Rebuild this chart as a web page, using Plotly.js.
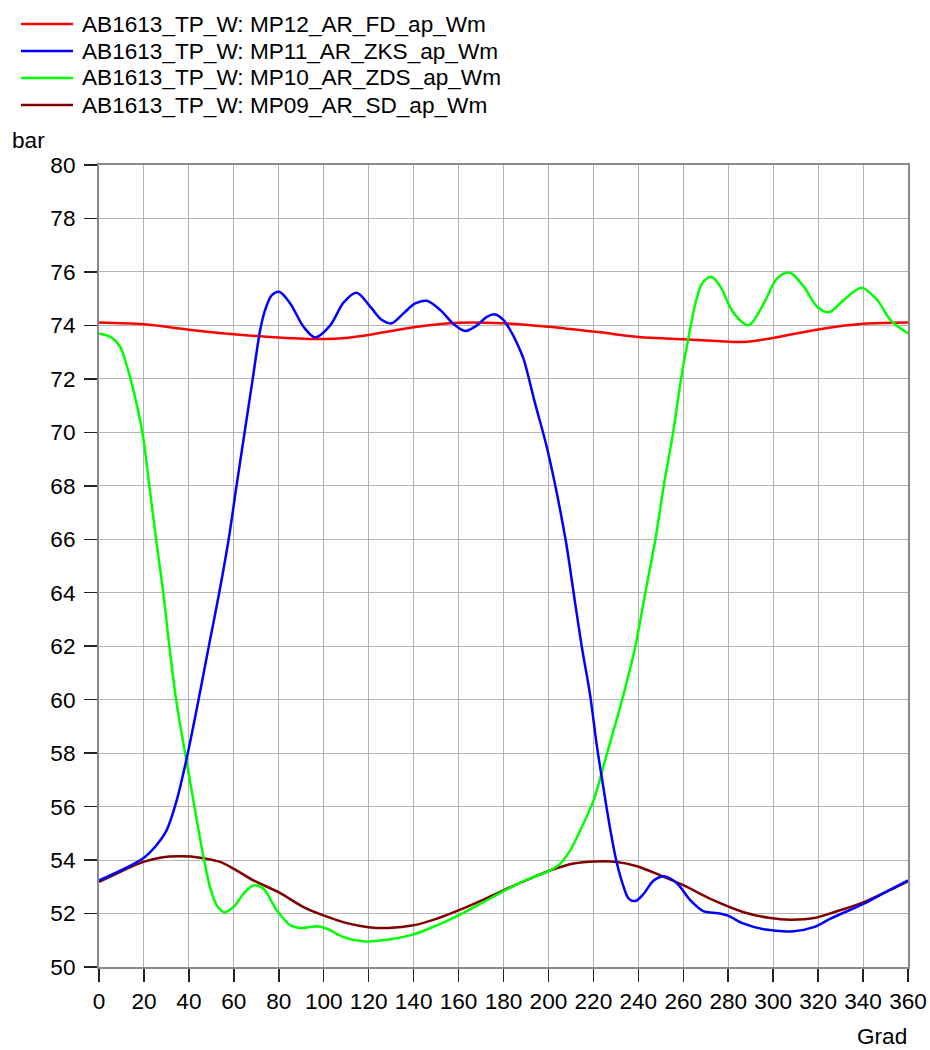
<!DOCTYPE html>
<html>
<head>
<meta charset="utf-8">
<script src="https://cdn.plot.ly/plotly-3.0.1.min.js"></script>
<style>html,body{margin:0;padding:0;background:#fff;}#chart{width:930px;height:1050px;}</style>
</head>
<body>
<div id="chart"></div>
<script>
// ---- data ----
const seriesNames = [
  "AB1613_TP_W: MP12_AR_FD_ap_Wm",
  "AB1613_TP_W: MP11_AR_ZKS_ap_Wm",
  "AB1613_TP_W: MP10_AR_ZDS_ap_Wm",
  "AB1613_TP_W: MP09_AR_SD_ap_Wm"
];
const xTickValues = [0,20,40,60,80,100,120,140,160,180,200,220,240,260,280,300,320,340,360];
const yTickValues = [50,52,54,56,58,60,62,64,66,68,70,72,74,76,78,80];
const xUnit = "Grad";
const yUnit = "bar";

const mp12Angle = [0,20,40,60,80,100,110,120,140,160,180,200,223,240,260,275,287,300,320,340,360];
const mp12Value = [74.11,74.04,73.84,73.67,73.55,73.49,73.53,73.64,73.93,74.1,74.08,73.95,73.74,73.57,73.48,73.42,73.38,73.53,73.85,74.06,74.11];

const mp11Angle = [0,10,20,25,30,34.6,39.3,44.3,49.1,53.5,57.7,61.2,64.8,68.4,71.7,73.9,76.9,80.2,85.1,91,96.2,102.9,108.8,114.6,120.7,125.9,130.3,135.5,140.7,145.9,151.9,157.8,163,168.2,172.6,176.3,180,183.8,186.7,189,194,199.6,207.6,211.2,214.8,218.5,221.5,224,227.6,230.5,233.5,235.7,238.7,242.4,246.9,252,257.3,263.2,269.1,273.6,279.5,286.9,295.8,309.2,318.1,325.5,340.4,350,360];
const mp11Value = [53.24,53.62,54.09,54.5,55.1,56.24,57.92,60.0,62.1,64.0,66.0,68.0,70.0,72.0,73.82,74.57,75.13,75.26,74.82,73.95,73.55,74.0,74.85,75.22,74.7,74.2,74.08,74.45,74.82,74.92,74.57,74.05,73.79,74.0,74.32,74.41,74.2,73.7,73.2,72.73,71.1,69.33,66.0,64.0,62.0,60.2,58.3,56.95,55.1,53.87,52.99,52.56,52.47,52.74,53.24,53.39,53.12,52.49,52.08,52.03,51.93,51.62,51.41,51.34,51.49,51.81,52.37,52.8,53.24];

const mp10Angle = [0,4.9,9.4,11.6,15.3,19.3,22.4,25.4,28.6,31.3,34.3,38.3,42.0,43.5,46.5,49.4,52.4,55.8,59.8,64.3,68.7,73.2,79.1,85.1,89.5,96.9,101.4,108.8,117.7,131.1,140,150.4,160,171.1,182.3,190,200.1,205.3,209.7,214.2,220.1,226.1,232.8,238.7,243.1,247.6,251.3,255.5,259,262.4,265.4,268.4,272.5,276.5,282.5,289.1,295.8,301.8,307.4,313.6,319.6,324.8,331.4,339.3,346.3,352.2,360];
const mp10Value = [73.7,73.58,73.2,72.7,71.58,70.0,68.0,66.0,64.0,62.0,60.0,58.0,56.24,55.49,54.12,52.99,52.31,52.05,52.24,52.74,53.05,52.93,52.12,51.56,51.46,51.52,51.43,51.12,50.96,51.06,51.22,51.56,51.93,52.43,52.93,53.25,53.59,53.87,54.37,55.12,56.24,58.0,60.0,62.0,64.0,66.0,68.0,70.0,72.0,73.58,74.82,75.57,75.82,75.45,74.45,74.01,74.82,75.76,75.97,75.45,74.7,74.49,74.95,75.41,74.95,74.2,73.7];

const mp09Angle = [0,10,19.7,27.2,36.8,45,53.9,59.8,68.7,79.9,91,99.9,110.3,119.9,128.8,140,150.4,160,171.1,180,190,200.1,211.2,220.9,230.5,239.4,249.8,260.2,273.6,286.9,298.8,307.7,318.1,327,340.4,360];
const mp09Value = [53.18,53.58,53.93,54.09,54.14,54.09,53.93,53.68,53.24,52.8,52.24,51.93,51.64,51.49,51.46,51.56,51.81,52.12,52.52,52.87,53.24,53.59,53.87,53.95,53.93,53.77,53.43,53.05,52.49,52.05,51.83,51.77,51.83,52.05,52.43,53.2];

const seriesColors = ["#ff0000","#0000ff","#00ff00","#800000"];

// ---- layout geometry (pixels) ----
const W = 930, H = 1050;
const L = 99, R = 908, T = 165, B = 967;
const px = x => (x - L) / (R - L);
const py = y => (B - y) / (B - T);
const FONT = "Liberation Sans, Arial, sans-serif";
const FS = 22.6;

const series = [
  {x: mp12Angle, y: mp12Value},
  {x: mp11Angle, y: mp11Value},
  {x: mp10Angle, y: mp10Value},
  {x: mp09Angle, y: mp09Value}
];
const drawOrder = [3, 0, 2, 1];
const traces = drawOrder.map(i => ({
  type: "scatter", mode: "lines",
  x: series[i].x, y: series[i].y, name: seriesNames[i],
  line: {color: seriesColors[i], width: 2.5, shape: "spline", smoothing: 0.9},
  showlegend: false, hoverinfo: "skip"
}));

const legendRows = [24, 51, 78, 105];
const shapes = [];
const annotations = [];
seriesNames.forEach((n, i) => {
  shapes.push({type: "line", xref: "paper", yref: "paper",
    x0: px(21), x1: px(73), y0: py(legendRows[i]), y1: py(legendRows[i]),
    line: {color: seriesColors[i], width: 2.5}});
  annotations.push({xref: "paper", yref: "paper", x: px(80), y: py(legendRows[i]),
    xanchor: "left", yanchor: "middle", showarrow: false, text: n,
    font: {family: FONT, size: FS, color: "#000"}});
});
annotations.push({xref: "paper", yref: "paper", x: px(10), y: py(140), xanchor: "left", yanchor: "middle",
  showarrow: false, text: yUnit, font: {family: FONT, size: FS, color: "#000"}});
annotations.push({xref: "paper", yref: "paper", x: px(909), y: py(1036), xanchor: "right", yanchor: "middle",
  showarrow: false, text: xUnit, font: {family: FONT, size: FS, color: "#000"}});

const axisCommon = {
  showgrid: true, gridcolor: "#b4b4b4", gridwidth: 1,
  showline: true, linecolor: "#8a8a8a", linewidth: 2, mirror: true,
  ticks: "outside", ticklen: 13, tickwidth: 1.5, tickcolor: "#222",
  zeroline: false, tickfont: {family: FONT, size: FS, color: "#000"},
  fixedrange: true
};

const layout = {
  width: W, height: H,
  margin: {l: L, r: W - R, t: T, b: H - B, pad: 0},
  paper_bgcolor: "#fff", plot_bgcolor: "#fff",
  showlegend: false,
  xaxis: Object.assign({}, axisCommon, {range: [0, 360], tickmode: "array", tickvals: xTickValues,
    ticktext: xTickValues.map(String), ticklabelstandoff: 0}),
  yaxis: Object.assign({}, axisCommon, {range: [50, 80], tickmode: "array", tickvals: yTickValues,
    ticktext: yTickValues.map(String), ticklabelstandoff: 4}),
  shapes: shapes,
  annotations: annotations
};

Plotly.newPlot("chart", traces, layout, {staticPlot: true, displayModeBar: false});
</script>
</body>
</html>
